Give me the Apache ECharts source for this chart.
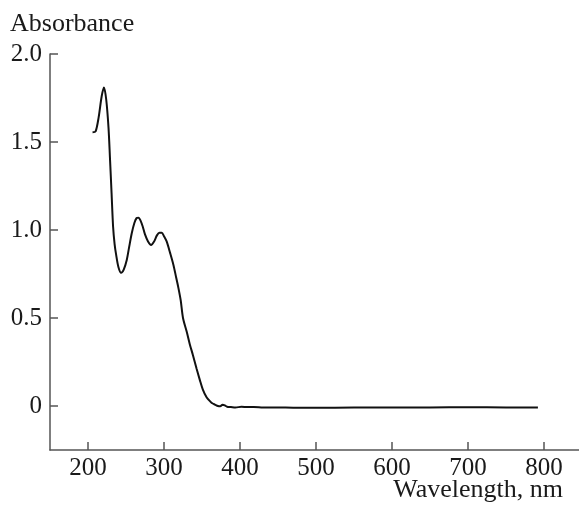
<!DOCTYPE html>
<html lang="en">
<head>
    <meta charset="UTF-8">
    <title>Absorbance spectrum</title>
    <script src="https://cdn.jsdelivr.net/npm/echarts@6/dist/echarts.min.js"></script>
    <style>
        *{
            padding:0;
            margin:0;
        }
        html,body{
            height:100%;
            background:#fff;
        }
        #main{
            width:579px;
            height:506px;
        }
    </style>
</head>
<body>
<div id="main"></div>
<script>
    // spectrum
    var wavelength = [206, 210, 214, 218, 221, 224, 227, 229, 231, 233, 235, 237, 240, 243.5, 247, 251, 254, 257.5, 261, 264, 266.5, 269, 272, 275, 279, 283, 287, 290.5, 294, 297, 300, 303.5, 308, 312.5, 316, 319, 322, 325, 330, 334, 338, 343, 347, 351, 356, 361, 364, 367, 371, 374, 377, 380, 383, 388, 394, 402, 410, 418, 430, 445, 460, 480, 500, 550, 600, 650, 700, 750, 792];
    var absorbance = [1.555, 1.56, 1.64, 1.76, 1.81, 1.74, 1.58, 1.40, 1.21, 1.02, 0.92, 0.86, 0.79, 0.757, 0.775, 0.83, 0.90, 0.98, 1.04, 1.068, 1.07, 1.055, 1.02, 0.975, 0.935, 0.915, 0.935, 0.968, 0.985, 0.985, 0.965, 0.935, 0.87, 0.80, 0.73, 0.67, 0.60, 0.50, 0.42, 0.35, 0.29, 0.21, 0.15, 0.095, 0.05, 0.025, 0.014, 0.008, 0.0, -0.002, 0.007, 0.004, -0.004, -0.006, -0.009, -0.004, -0.006, -0.005, -0.008, -0.009, -0.009, -0.010, -0.010, -0.009, -0.009, -0.008, -0.007, -0.008, -0.008];
    var xTicks = [200, 300, 400, 500, 600, 700, 800];
    var yTicks = [0, 0.5, 1.0, 1.5, 2.0];

    var points = [];
    for (var i = 0; i < wavelength.length; i++) {
        points.push([wavelength[i], absorbance[i]]);
    }

    var font = "'Liberation Serif', 'DejaVu Serif', serif";
    var nameStyle = {
        fontFamily: font,
        fontSize: 26,
        fontWeight: 'normal',
        color: '#1a1a1a'
    };
    var myChart = echarts.init(document.getElementById('main'));
    var option = {
        animation: false,
        backgroundColor: '#fff',
        // axis names drawn as titles so they sit where the original puts them
        title: [
            {
                text: 'Absorbance',
                left: 10,
                top: 11,
                padding: 0,
                textStyle: nameStyle
            },
            {
                text: 'Wavelength, nm',
                right: 16,
                top: 477,
                padding: 0,
                textStyle: nameStyle
            }
        ],
        grid: {
            left: 50,
            right: -3,
            top: 54,
            bottom: 56,
            containLabel: false,
            outerBoundsMode: 'none'
        },
        xAxis: {
            type: 'value',
            min: 150,
            max: 850,
            splitLine: { show: false },
            axisLine: { show: true, onZero: false, lineStyle: { color: '#555', width: 1.5 } },
            axisTick: {
                show: true,
                inside: true,
                length: 8,
                customValues: xTicks,
                lineStyle: { color: '#555', width: 1.5 }
            },
            axisLabel: {
                customValues: xTicks,
                fontFamily: font,
                fontSize: 25,
                color: '#1a1a1a',
                margin: 6
            }
        },
        yAxis: {
            type: 'value',
            min: -0.25,
            max: 2.0,
            splitLine: { show: false },
            axisLine: { show: true, onZero: false, lineStyle: { color: '#555', width: 1.5 } },
            axisTick: {
                show: true,
                inside: true,
                length: 8,
                customValues: yTicks,
                lineStyle: { color: '#555', width: 1.5 }
            },
            axisLabel: {
                customValues: yTicks,
                fontFamily: font,
                fontSize: 25,
                color: '#1a1a1a',
                margin: 8,
                formatter: function (v) {
                    return v === 0 ? '0' : v.toFixed(1);
                }
            }
        },
        series: [
            {
                type: 'line',
                data: points,
                showSymbol: false,
                smooth: 0.3,
                lineStyle: { color: '#111', width: 2 }
            }
        ]
    };
    myChart.setOption(option);
</script>
</body>
</html>
